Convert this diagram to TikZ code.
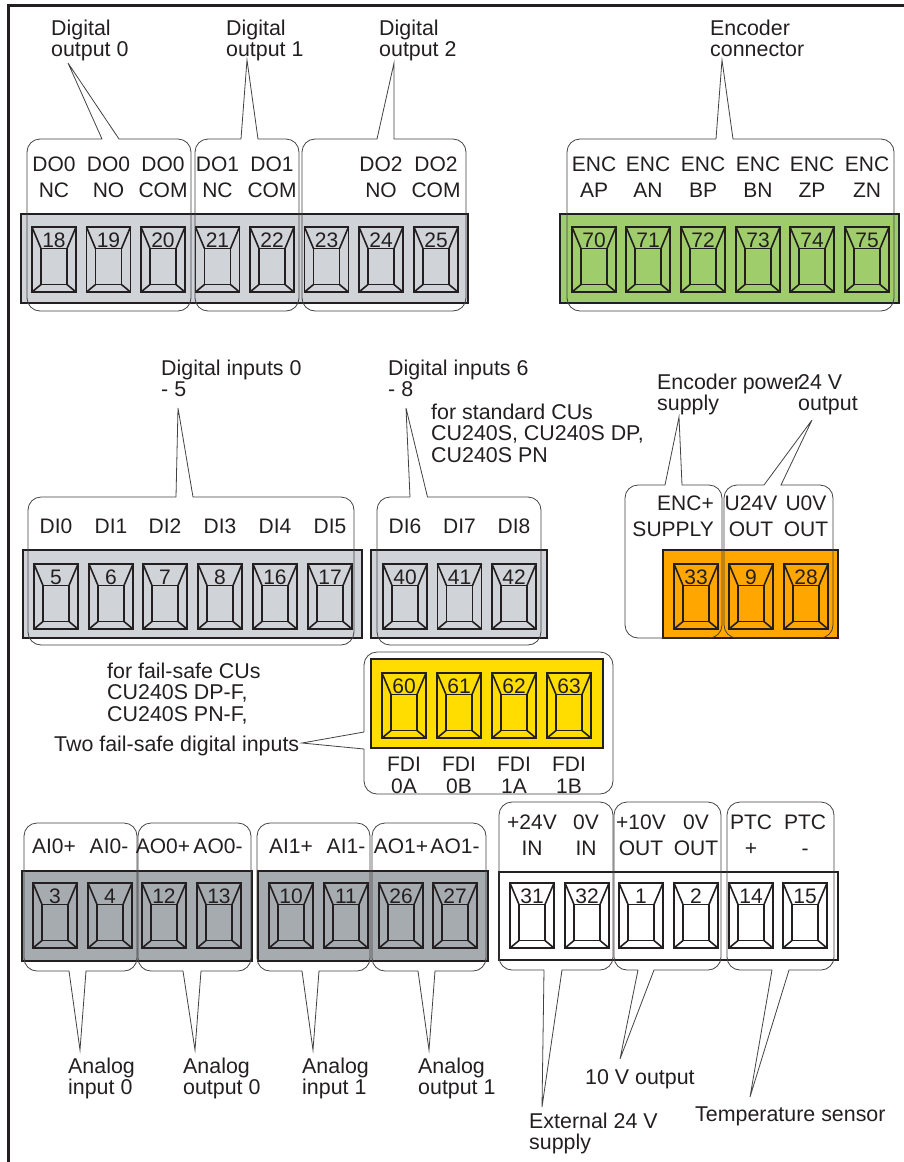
\documentclass[tikz,border=0pt]{standalone}
\usepackage{fontspec}
\setmainfont{Liberation Sans}
\usepackage{xcolor}
\definecolor{inkdark}{RGB}{35,31,32}
\definecolor{softgray}{RGB}{208,211,216}
\definecolor{softgreen}{RGB}{160,205,108}
\definecolor{softorange}{RGB}{255,166,0}
\definecolor{softyellow}{RGB}{255,221,0}
\definecolor{midgray}{RGB}{166,171,175}
\tikzset{
  bar/.style={draw=inkdark, line width=2.9pt, line join=miter},
  termline/.style={draw=inkdark, line width=1.6pt},
  callout/.style={draw=inkdark!85, line width=0.8pt, line join=miter},
  frameline/.style={draw=inkdark, line width=2.9pt},
  num/.style={anchor=base, inner sep=0pt, text=inkdark, font=\fontsize{21}{21}\selectfont},
  pinlabel/.style={anchor=base, inner sep=0pt, align=center, text=inkdark, font=\fontsize{21}{26}\selectfont},
  note/.style={anchor=base west, inner sep=0pt, align=left, text=inkdark, font=\fontsize{21.4}{21.5}\selectfont},
}
\begin{document}
\begin{tikzpicture}[x=1pt, y=-1pt]
\useasboundingbox (0,0) rectangle (904,1162);
\draw[frameline] (8.7,1162) -- (8.7,5.5) -- (904,5.5);

% terminal bars
\foreach \l/\r/\t/\b/\c in {21/468/214/303/softgray, 560/899/214/303/softgreen,
    23/362/550/638/softgray, 371/547/550/638/softgray, 663/838/550/638/softorange,
    371/603/659/748/softyellow, 22/252/871/961/midgray, 258/488/871/961/midgray,
    499/838/872/960/white}
  \draw[bar, fill=\c] (\l,\t) rectangle (\r,\b);

% terminals
\foreach \n/\x/\y in {18/32/227, 19/86.5/227, 20/141/227, 21/195.5/227, 22/250/227, 23/304.5/227,
    24/359/227, 25/414/227, 70/572/227, 71/626/227, 72/681/227, 73/736/227, 74/790/227, 75/845/227,
    5/34/564, 6/89/564, 7/143/564, 8/198/564, 16/253/564, 17/308/564, 40/383/564, 41/437.5/564,
    42/492/564, 33/674/564, 9/729/564, 28/784/564, 60/382/673, 61/437/673, 62/492/673, 63/547/673,
    3/33/883, 4/88/883, 12/142/883, 13/197/883, 10/269/883, 11/324/883, 26/379/883, 27/433/883,
    31/510/883, 32/565/883, 1/619/883, 2/674/883, 14/729/883, 15/783/883}{
  \draw[termline] (\x,\y) rectangle ++(44,65);
  \draw[termline] (\x+9,\y+21.5) rectangle (\x+35,\y+57.5);
  \draw[termline] (\x,\y) -- (\x+9,\y+21.5) (\x+44,\y) -- (\x+35,\y+21.5)
    (\x,\y+65) -- (\x+9,\y+57.5) (\x+44,\y+65) -- (\x+35,\y+57.5);
  \node[num] (t\n) at (\x+22,\y+20) {\n};
}

% callouts, pointer on top
\foreach \l/\r/\t/\b/\a/\e/\tx/\ty in {27/191/139/311/102/119/68/63, 195/299/139/311/241/258/247/60,
    302/466/139/311/377/394/394/63, 567/894/139/311/716/733/722/60,
    28/354/497/645/176/193/178/408, 377/541/497/645/410/427.5/406/408,
    625/722/485/638/665/682/679/417, 724/833/485/638/764/781/812/420}
  \draw[callout] (\a,\t) -- (\tx,\ty) -- (\e,\t) [rounded corners=13pt] -- (\r,\t) -- (\r,\b)
    -- (\l,\b) -- (\l,\t) [sharp corners] -- (\a,\t);

% callouts, pointer below
\foreach \l/\r/\t/\b/\a/\e/\tx/\ty in {24/137/823/971/69/86/80/1050, 138/251/823/971/183/201/195/1050,
    257/370/823/971/302/319/313/1050, 372/486/823/971/418/435/429/1050,
    499/613/802/970/544/562/542/1107, 614/721/802/970/638/654/620/1059,
    727/834/802/970/772/789/750/1097}
  \draw[callout] (\a,\b) -- (\tx,\ty) -- (\e,\b) [rounded corners=13pt] -- (\r,\b) -- (\r,\t)
    -- (\l,\t) -- (\l,\b) [sharp corners] -- (\a,\b);

% callout of the fail-safe inputs
\draw[callout] (364,732) -- (302,743) -- (364,749) [rounded corners=13pt] -- (364,794) -- (613,794)
  -- (613,652) -- (364,652) [sharp corners] -- (364,732);

% pin names
\foreach \x/\y/\s in {54/197/{DO0\\NC}, 108.5/197/{DO0\\NO}, 163/197/{DO0\\COM}, 217.5/197/{DO1\\NC},
    272/197/{DO1\\COM}, 381/197/{DO2\\NO}, 436/197/{DO2\\COM},
    594/197/{ENC\\AP}, 648/197/{ENC\\AN}, 703/197/{ENC\\BP}, 758/197/{ENC\\BN}, 812/197/{ENC\\ZP}, 867/197/{ENC\\ZN},
    56/533/DI0, 111/533/DI1, 165/533/DI2, 220/533/DI3, 275/533/DI4, 330/533/DI5,
    405/533/DI6, 459.5/533/DI7, 514/533/DI8,
    751/536/{U24V\\OUT}, 806/536/{U0V\\OUT},
    54/853/AI0+, 109/853/AI0-, 163/853/AO0+, 218/853/AO0-, 291/853/AI1+, 346/853/AI1-, 401/853/AO1+, 455/853/AO1-,
    532/855/{+24V\\IN}, 586/855/{0V\\IN}, 641/855/{+10V\\OUT}, 696/855/{0V\\OUT}, 751/855/{PTC\\+}, 805/855/{PTC\\-}}
  \node[pinlabel] at (\x,\y) {\s};
\node[pinlabel, align=right, anchor=base east] (encsupply) at (714,536) {ENC+\\SUPPLY};
\foreach \x/\s in {404/0A, 459/0B, 514/1A, 569/1B}
  \node[pinlabel, font=\fontsize{21}{22}\selectfont] (fdi\s) at (\x,793) {FDI\\\s};

% group names
\node[note] (do0) at (51,56.5) {Digital\\output 0};
\node[note] (do1) at (226,56.5) {Digital\\output 1};
\node[note] (do2) at (379,56.5) {Digital\\output 2};
\node[note] (enc) at (710,56.5) {Encoder\\connector};
\node[note] (di0) at (161,396.5) {Digital inputs 0\\- 5};
\node[note] (di6) at (388,396.5) {Digital inputs 6\\- 8};
\node[note] (std) at (431,462) {for standard CUs\\CU240S, CU240S DP,\\CU240S PN};
\node[note] (encpow) at (657,410.5) {Encoder power\\supply};
\node[note] (u24) at (798,410.5) {24 V\\output};
\node[note] (safe) at (107,721) {for fail-safe CUs\\CU240S DP-F,\\CU240S PN-F,};
\node[note] (fdi) at (54,751) {Two fail-safe digital inputs};
\node[note] (ai0) at (68,1094.5) {Analog\\input 0};
\node[note] (ao0) at (183,1094.5) {Analog\\output 0};
\node[note] (ai1) at (302,1094.5) {Analog\\input 1};
\node[note] (ao1) at (418,1094.5) {Analog\\output 1};
\node[note] (ext) at (529,1149.5) {External 24 V\\supply};
\node[note] (ten) at (585,1084) {10 V output};
\node[note] (ptc) at (695,1121) {Temperature sensor};
\end{tikzpicture}
\end{document}
